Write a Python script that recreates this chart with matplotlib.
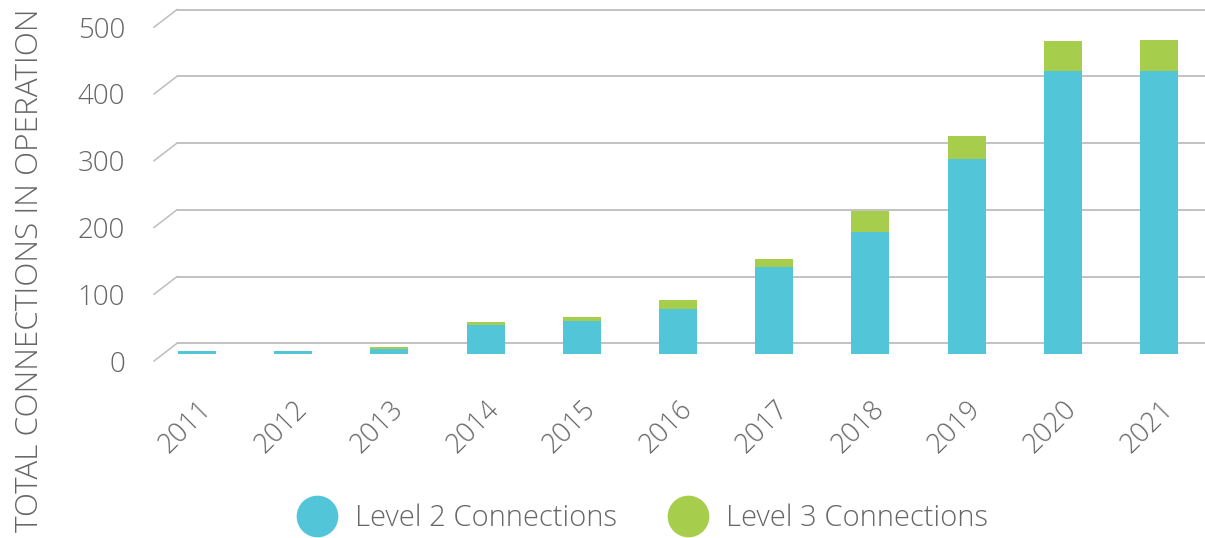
import numpy as np
import matplotlib
matplotlib.use("Agg")
from matplotlib import pyplot as plt
from matplotlib.lines import Line2D

# --- data ---
years = ["2011", "2012", "2013", "2014", "2015", "2016",
         "2017", "2018", "2019", "2020", "2021"]
level2 = [4, 4, 7, 44, 50, 68, 131, 183, 292, 424, 424]
level3 = [1, 1, 3, 4, 6, 13, 12, 31, 34, 45, 47]
y_ticks = [0, 100, 200, 300, 400, 500]

# --- style ---
CYAN = "#52c6d8"
GREEN = "#a6cd4b"
GRID = "#bdbdbd"
TEXT = "#666666"
FONT = ["Open Sans", "DejaVu Sans"]
plt.rcParams["font.family"] = FONT

# pseudo 3D depth (in data units): back wall is above the bar plane, front below
BACK = 16
FRONT = -10.5

fig = plt.figure(figsize=(12.05, 5.38), dpi=100)
W, H = 1205, 538
ax_l, ax_r, ax_t, ax_b = 150, 1205, 0, 370
ax = fig.add_axes([ax_l / W, 1 - ax_b / H, (ax_r - ax_l) / W, (ax_b - ax_t) / H])

x = np.arange(len(years))
px_per_cat = 96.2
x0_px = 197
ax.set_xlim((ax_l - x0_px) / px_per_cat, (ax_r - x0_px) / px_per_cat)
px_per_unit = 0.6676
base_px = 354
ax.set_ylim(-(ax_b - base_px) / px_per_unit, base_px / px_per_unit)

# gridlines on back wall, with a diagonal floor edge
x_back = (177 - x0_px) / px_per_cat
x_front = (154 - x0_px) / px_per_cat
for v in y_ticks:
    ax.plot([x_back, ax.get_xlim()[1]], [v + BACK, v + BACK],
            color=GRID, lw=1.3, solid_capstyle="butt", zorder=1, clip_on=False)
    ax.plot([x_front, x_back], [v + FRONT, v + BACK],
            color=GRID, lw=1.1, zorder=1, clip_on=False)

bw = 0.395
ax.bar(x, level2, width=bw, color=CYAN, zorder=3)
ax.bar(x, level3, width=bw, bottom=level2, color=GREEN, zorder=3)

# tick labels
ax.set_yticks([v + FRONT for v in y_ticks])
ax.set_yticklabels([str(v) for v in y_ticks])
ax.set_xticks(x)
ax.set_xticklabels(years, rotation=45, ha="right", va="top", rotation_mode="anchor")
ax.tick_params(axis="y", length=0, pad=18, labelsize=20, labelcolor=TEXT)
ax.tick_params(axis="x", length=0, pad=18, labelsize=19.5, labelcolor=TEXT)
for lab in ax.get_xticklabels() + ax.get_yticklabels():
    lab.set_fontweight("light")
for s in ax.spines.values():
    s.set_visible(False)

fig.text(30 / W, 1 - 270 / H, "TOTAL CONNECTIONS IN OPERATION", rotation=90,
         ha="center", va="center", fontsize=22.7, color=TEXT, fontweight="light")

handles = [Line2D([], [], marker="o", ls="", markersize=29, color=CYAN),
           Line2D([], [], marker="o", ls="", markersize=29, color=GREEN)]
fig.legend(handles, ["Level 2 Connections", "Level 3 Connections"],
           loc="center", bbox_to_anchor=(638 / W, 1 - 518 / H), ncol=2,
           frameon=False, labelcolor=TEXT, handletextpad=0.3,
           columnspacing=1.45, prop={"weight": "light", "size": 21})

fig.savefig("out.png", dpi=100)
